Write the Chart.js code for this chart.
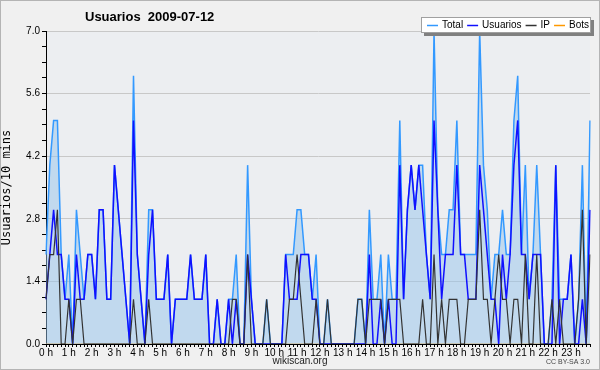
<!DOCTYPE html>
<html>
<head>
<meta charset="utf-8">
<script src="https://cdn.jsdelivr.net/npm/chart.js@4.4.0/dist/chart.umd.min.js"></script>
<style>
  html, body { margin: 0; padding: 0; background: #f0f0f0; }
  #wrap { width: 600px; height: 370px; }
</style>
</head>
<body>
<div id="wrap"><canvas id="chart" width="600" height="370"></canvas></div>
<script>
// ....................................   DATA (10 min steps, 2009-07-12)   ....................................

const hourLabels = ['0 h', '1 h', '2 h', '3 h', '4 h', '5 h', '6 h', '7 h', '8 h', '9 h', '10 h', '11 h',
    '12 h', '13 h', '14 h', '15 h', '16 h', '17 h', '18 h', '19 h', '20 h', '21 h', '22 h', '23 h'];

const total = [
    2, 4, 5, 5, 2, 1, 2, 0, 3, 2, 1, 2, 2, 1, 3, 3, 1, 1, 4, 3, 2, 1, 0, 6,
    2, 1, 0, 3, 3, 1, 1, 1, 2, 0, 1, 1, 1, 1, 2, 1, 1, 1, 2, 0, 0, 1, 0, 0,
    1, 1, 2, 0, 0, 4, 1, 0, 0, 0, 1, 0, 0, 0, 0, 2, 2, 2, 3, 3, 2, 2, 1, 2,
    0, 0, 1, 0, 0, 0, 0, 0, 0, 0, 1, 1, 0, 3, 1, 1, 2, 0, 2, 1, 1, 5, 1, 3,
    4, 3, 4, 4, 2, 1, 7, 3, 2, 2, 3, 3, 5, 2, 2, 2, 2, 2, 7, 4, 3, 1, 2, 2,
    3, 2, 2, 5, 6, 2, 4, 1, 2, 4, 2, 0, 0, 1, 4, 1, 1, 1, 2, 0, 1, 4, 0, 5
];

const usuarios = [
    1, 2, 3, 2, 2, 1, 1, 0, 2, 1, 1, 2, 2, 1, 3, 3, 1, 1, 4, 3, 2, 1, 0, 5,
    2, 1, 0, 2, 3, 1, 1, 1, 2, 0, 1, 1, 1, 1, 2, 1, 1, 1, 2, 0, 0, 1, 0, 0,
    1, 0, 1, 0, 0, 2, 1, 0, 0, 0, 0, 0, 0, 0, 0, 2, 1, 1, 1, 2, 2, 2, 1, 1,
    0, 0, 0, 0, 0, 0, 0, 0, 0, 0, 0, 0, 0, 2, 0, 0, 1, 0, 1, 0, 0, 4, 1, 3,
    4, 3, 4, 3, 2, 1, 5, 3, 1, 2, 2, 2, 4, 2, 2, 1, 1, 1, 4, 3, 2, 1, 1, 0,
    2, 1, 2, 4, 5, 2, 2, 1, 2, 2, 2, 0, 0, 0, 4, 0, 1, 1, 2, 0, 0, 1, 0, 3
];

const ip = [
    1, 2, 2, 3, 0, 0, 1, 0, 1, 1, 0, 0, 0, 0, 0, 0, 0, 0, 0, 0, 0, 0, 0, 1,
    0, 0, 0, 1, 0, 0, 0, 0, 0, 0, 0, 0, 0, 0, 0, 0, 0, 0, 0, 0, 0, 0, 0, 0,
    0, 1, 1, 0, 0, 2, 0, 0, 0, 0, 1, 0, 0, 0, 0, 0, 1, 1, 2, 1, 0, 0, 0, 1,
    0, 0, 1, 0, 0, 0, 0, 0, 0, 0, 1, 1, 0, 1, 1, 1, 1, 0, 1, 1, 1, 1, 0, 0,
    0, 0, 0, 1, 0, 0, 2, 0, 1, 0, 1, 1, 1, 0, 0, 1, 1, 1, 3, 1, 1, 0, 1, 2,
    1, 1, 0, 1, 1, 0, 2, 0, 0, 2, 0, 0, 0, 1, 0, 1, 0, 0, 0, 0, 1, 3, 0, 2
];

const bots = [
    0, 0, 0, 0, 0, 0, 0, 0, 0, 0, 0, 0, 0, 0, 0, 0, 0, 0, 0, 0, 0, 0, 0, 0,
    0, 0, 0, 0, 0, 0, 0, 0, 0, 0, 0, 0, 0, 0, 0, 0, 0, 0, 0, 0, 0, 0, 0, 0,
    0, 0, 0, 0, 0, 0, 0, 0, 0, 0, 0, 0, 0, 0, 0, 0, 0, 0, 0, 0, 0, 0, 0, 0,
    0, 0, 0, 0, 0, 0, 0, 0, 0, 0, 0, 0, 0, 0, 0, 0, 0, 0, 0, 0, 0, 0, 0, 0,
    0, 0, 0, 0, 0, 0, 0, 0, 0, 0, 0, 0, 0, 0, 0, 0, 0, 0, 0, 0, 0, 0, 0, 0,
    0, 0, 0, 0, 0, 0, 0, 0, 0, 0, 0, 0, 0, 0, 0, 0, 0, 0, 0, 0, 0, 0, 0, 0
];

const yMajorTicks = [0, 1.4, 2.8, 4.2, 5.6, 7.0];

// one label per 10 minutes, only the full hours get text
const labels = [];
hourLabels.forEach(function (h) {
    labels.push(h);
    for (let k = 1; k < 6; k++) labels.push('');
});

function isMajor(v) {
    return yMajorTicks.some(function (t) { return Math.abs(t - v) < 1e-6; });
}

// ....................................   PLUGINS   ....................................

const frame = {
    id: 'frame',
    beforeDraw(chart) {
        const c = chart.ctx, a = chart.chartArea;
        c.save();
        c.fillStyle = '#f0f0f0';
        c.fillRect(0, 0, chart.width, chart.height);
        c.strokeStyle = '#b4b4b4';
        c.lineWidth = 1;
        c.strokeRect(0.5, 0.5, chart.width - 1, chart.height - 1);
        c.fillStyle = '#eceef1';
        c.fillRect(a.left, a.top, a.right - a.left, a.bottom - a.top);
        c.restore();
    },
    afterDraw(chart) {
        const c = chart.ctx;
        c.save();
        // title
        c.fillStyle = '#000';
        c.font = 'bold 13px "Liberation Sans", Arial, sans-serif';
        c.textBaseline = 'middle';
        c.textAlign = 'left';
        c.fillText('Usuarios  2009-07-12', 85, 17);

        // legend box with shadow
        c.fillStyle = '#808080';
        c.fillRect(424, 20, 170, 16);
        c.fillStyle = '#ffffff';
        c.fillRect(421, 17, 170, 16);
        c.strokeStyle = '#a0a0a0';
        c.lineWidth = 1;
        c.strokeRect(421.5, 17.5, 169, 15);

        c.font = '10px "Liberation Sans", Arial, sans-serif';
        let x = 427;
        chart.data.datasets.forEach(function (ds) {
            c.strokeStyle = ds.borderColor;
            c.lineWidth = 1.5;
            c.beginPath();
            c.moveTo(x, 25.5);
            c.lineTo(x + 11, 25.5);
            c.stroke();
            c.fillStyle = '#000';
            c.fillText(ds.label, x + 15, 25.5);
            x += 15 + c.measureText(ds.label).width + 4;
        });

        // credits
        c.font = '10px "Liberation Sans", Arial, sans-serif';
        c.textAlign = 'center';
        c.fillStyle = '#222';
        c.fillText('wikiscan.org', 300, 361);
        c.font = '7px "Liberation Sans", Arial, sans-serif';
        c.textAlign = 'right';
        c.fillStyle = '#444';
        c.fillText('CC BY-SA 3.0', 590, 362);
        c.restore();
    }
};

// ....................................   CHART   ....................................

new Chart(document.getElementById('chart'), {
    type: 'line',
    data: {
        labels: labels,
        datasets: [{
            label: 'Total',
            data: total,
            borderColor: '#3399ff',
            backgroundColor: 'rgba(150, 195, 235, 0.5)',
            borderWidth: 1.5,
            fill: 'origin',
            order: 4
        }, {
            label: 'Usuarios',
            data: usuarios,
            borderColor: '#1010ff',
            borderWidth: 1.5,
            fill: false,
            order: 3
        }, {
            label: 'IP',
            data: ip,
            borderColor: '#333333',
            borderWidth: 1.2,
            fill: false,
            order: 2
        }, {
            label: 'Bots',
            data: bots,
            borderColor: '#ff9900',
            borderWidth: 1,
            fill: false,
            order: 5
        }]
    },
    options: {
        responsive: false,
        devicePixelRatio: 1,
        animation: false,
        elements: {
            point: { radius: 0, hoverRadius: 0 },
            line: { tension: 0 }
        },
        layout: { padding: { left: 0, top: 31, right: 10, bottom: 0 } },
        plugins: {
            legend: { display: false },
            title: { display: false },
            tooltip: { enabled: false }
        },
        scales: {
            x: {
                z: 1,
                offset: false,
                grid: { display: true, drawOnChartArea: false, tickLength: 3, tickColor: '#000' },
                border: { display: true, color: '#000' },
                ticks: {
                    autoSkip: false,
                    maxRotation: 0,
                    minRotation: 0,
                    padding: 0,
                    color: '#000',
                    font: { family: '"Liberation Sans", Arial, sans-serif', size: 10 }
                },
                afterFit(scale) { scale.height = 26; }
            },
            y: {
                min: 0,
                max: 7,
                grid: {
                    color: function (ctx) { return isMajor(ctx.tick.value) ? '#c8c8c8' : 'rgba(0,0,0,0)'; },
                    tickColor: '#000',
                    tickLength: 4
                },
                border: { display: true, color: '#000' },
                ticks: {
                    stepSize: 0.35,
                    autoSkip: false,
                    padding: 2,
                    color: '#000',
                    font: { family: '"Liberation Sans", Arial, sans-serif', size: 10 },
                    callback: function (v) { return isMajor(v) ? Number(v).toFixed(1) : ''; }
                },
                title: {
                    display: true,
                    text: 'Usuarios/10 mins',
                    color: '#000',
                    padding: { top: 0, bottom: 0 },
                    font: { family: '"DejaVu Sans Mono", monospace', size: 12 }
                },
                afterFit(scale) { scale.width = 46; }
            }
        }
    },
    plugins: [frame]
});
</script>
</body>
</html>
